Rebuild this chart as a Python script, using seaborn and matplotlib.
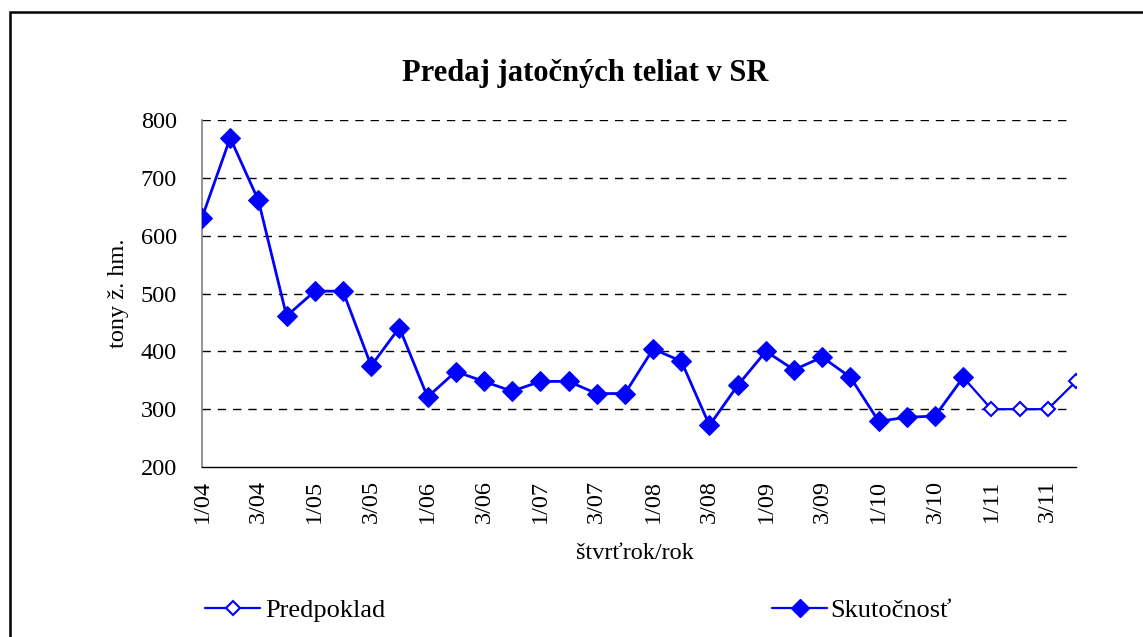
import matplotlib
matplotlib.use("Agg")
import matplotlib.pyplot as plt
import seaborn as sns
import pandas as pd
from matplotlib.patches import Rectangle
from matplotlib.lines import Line2D

quarters = ["1/04", "2/04", "3/04", "4/04", "1/05", "2/05", "3/05", "4/05",
            "1/06", "2/06", "3/06", "4/06", "1/07", "2/07", "3/07", "4/07",
            "1/08", "2/08", "3/08", "4/08", "1/09", "2/09", "3/09", "4/09",
            "1/10", "2/10", "3/10", "4/10", "1/11", "2/11", "3/11", "4/11"]
actual = [631, 769, 661, 461, 504, 504, 375, 441, 321, 365, 348, 331,
          348, 348, 327, 327, 404, 383, 272, 341, 400, 368, 390, 355,
          279, 286, 288, 355]
forecast_quarters = ["4/10", "1/11", "2/11", "3/11", "4/11"]
forecast = [355, 300, 300, 300, 348]

sns.set_style("white")
plt.rcParams["font.family"] = ["Liberation Serif", "DejaVu Serif"]
plt.rcParams["text.color"] = "black"
plt.rcParams["axes.labelcolor"] = "black"
plt.rcParams["xtick.color"] = "black"
plt.rcParams["ytick.color"] = "black"

pos = {q: i for i, q in enumerate(quarters)}
df_a = pd.DataFrame({"x": [pos[q] for q in quarters[:len(actual)]], "y": actual})
df_f = pd.DataFrame({"x": [pos[q] for q in forecast_quarters], "y": forecast})

fig = plt.figure(figsize=(11.43, 6.37), dpi=100)
ax = fig.add_axes([202/1143, 1-467/637, (1076-202)/1143, (467-120)/637])

blue = "#0000FF"
sns.lineplot(data=df_f, x="x", y="y", ax=ax, color=blue, lw=1.6, marker="D",
             markersize=7.5, markerfacecolor="white", markeredgecolor=blue,
             markeredgewidth=1.5, zorder=3)
sns.lineplot(data=df_a, x="x", y="y", ax=ax, color=blue, lw=2.0, marker="D",
             markersize=10, markerfacecolor=blue, markeredgecolor=blue, zorder=4)

ax.set_xlim(0, len(quarters)-1)
ax.set_ylim(200, 800)
ax.set_yticks(range(200, 801, 100))
ax.set_xticks(range(len(quarters)))
ax.set_xticklabels([q if i % 2 == 0 else "" for i, q in enumerate(quarters)],
                   rotation=90, fontsize=17.5)
ax.tick_params(axis="y", labelsize=17.5, direction="inout", length=10, width=1, pad=13)
ax.tick_params(axis="x", direction="inout", length=9, width=1, pad=5)
for g in range(300, 801, 100):
    ax.plot([0, len(quarters)-1.2], [g, g], color="black", lw=1.0,
            ls=(0, (6, 5)), zorder=1)

for s in ["top", "right"]:
    ax.spines[s].set_visible(False)
ax.spines["left"].set_color("#808080")
ax.spines["left"].set_linewidth(1.2)
ax.spines["bottom"].set_color("black")
ax.spines["bottom"].set_linewidth(1.0)

ax.set_xlabel("štvrťrok/rok", fontsize=17.5)
ax.xaxis.set_label_coords((635-202)/(1076-202), -(543-467)/(467-120))
ax.set_ylabel("tony ž. hm.", fontsize=17.5)
ax.yaxis.set_label_coords(-(202-129)/(1076-202), 0.5)

fig.text(585/1143, 1-73/637, "Predaj jatočných teliat v SR", ha="center",
         va="center", fontsize=22, fontweight="bold")

h1 = Line2D([], [], color=blue, lw=1.6, marker="D", markersize=7,
            markerfacecolor="white", markeredgecolor=blue, markeredgewidth=1.5)
h2 = Line2D([], [], color=blue, lw=1.6, marker="D", markersize=9,
            markerfacecolor=blue, markeredgecolor=blue)
fig.legend([h1], ["Predpoklad"], loc="center left", frameon=False, fontsize=19,
           bbox_to_anchor=(205/1143, 1-610/637), handlelength=2.1,
           handletextpad=0.2, borderaxespad=0, borderpad=0)
fig.legend([h2], ["Skutočnosť"], loc="center left", frameon=False, fontsize=19,
           bbox_to_anchor=(772/1143, 1-610/637), handlelength=2.1,
           handletextpad=0.1, borderaxespad=0, borderpad=0)

fig.patches.append(Rectangle((10/1143, -0.1), 1.2, 1-12/637+0.1,
                             transform=fig.transFigure, fill=False,
                             edgecolor="black", lw=1.8))

fig.savefig("out.png", dpi=100, facecolor="white")
